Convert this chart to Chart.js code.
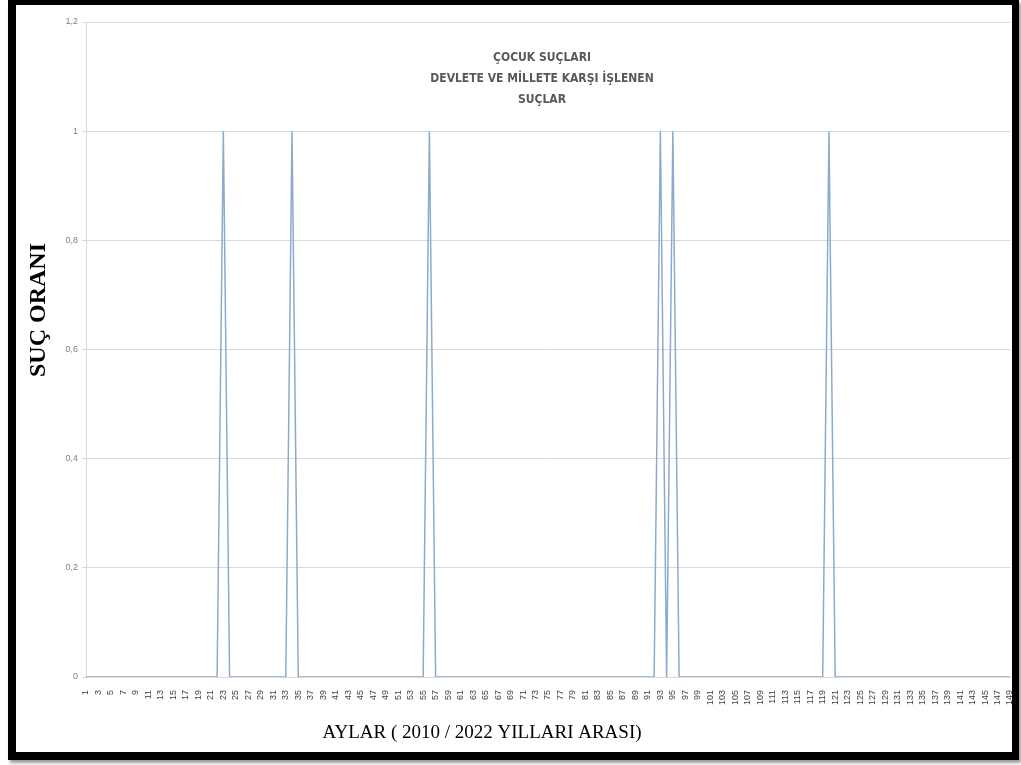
<!DOCTYPE html>
<html lang="tr">
<head>
<meta charset="utf-8">
<title>Çocuk Suçları</title>
<script src="https://cdn.jsdelivr.net/npm/chart.js@4.4.1/dist/chart.umd.min.js"></script>
<style>
  html, body { margin: 0; padding: 0; background: #fff; overflow: hidden; }
  .frame {
    position: absolute;
    left: 8px; top: 0;
    width: 1011px; height: 760px;
    box-sizing: border-box;
    border-style: solid;
    border-color: #000;
    border-width: 5px 7px 8px 8px;
    box-shadow: 2px 3px 3px #9a9a9a;
    background: #fff;
  }
  .chart-box { position: relative; width: 996px; height: 747px; }
</style>
</head>
<body>
<div class="frame">
  <div class="chart-box"><canvas id="sucChart"></canvas></div>
</div>
<script>
// Ay numaraları (1..149)
const aylar = [];
for (let i = 1; i <= 149; i++) aylar.push(String(i));

// Suç oranı, aylık
const sucOrani = [
  0, 0, 0, 0, 0, 0, 0, 0, 0, 0,
  0, 0, 0, 0, 0, 0, 0, 0, 0, 0,
  0, 0, 1, 0, 0, 0, 0, 0, 0, 0,
  0, 0, 0, 1, 0, 0, 0, 0, 0, 0,
  0, 0, 0, 0, 0, 0, 0, 0, 0, 0,
  0, 0, 0, 0, 0, 1, 0, 0, 0, 0,
  0, 0, 0, 0, 0, 0, 0, 0, 0, 0,
  0, 0, 0, 0, 0, 0, 0, 0, 0, 0,
  0, 0, 0, 0, 0, 0, 0, 0, 0, 0,
  0, 0, 1, 0, 1, 0, 0, 0, 0, 0,
  0, 0, 0, 0, 0, 0, 0, 0, 0, 0,
  0, 0, 0, 0, 0, 0, 0, 0, 0, 1,
  0, 0, 0, 0, 0, 0, 0, 0, 0, 0,
  0, 0, 0, 0, 0, 0, 0, 0, 0, 0,
  0, 0, 0, 0, 0, 0, 0, 0, 0
];

const baslik = ['ÇOCUK SUÇLARI', 'DEVLETE VE MİLLETE KARŞI İŞLENEN', 'SUÇLAR'];
const yBaslik = 'SUÇ ORANI';
const xBaslik = 'AYLAR ( 2010 / 2022 YILLARI ARASI)';

// Title and axis titles sit off-centre in the original, so draw them by hand
const metinler = {
  id: 'metinler',
  afterDraw(chart) {
    const ctx = chart.ctx;
    ctx.save();
    ctx.textAlign = 'center';
    ctx.textBaseline = 'middle';

    ctx.fillStyle = '#595959';
    ctx.font = 'bold 12px "Liberation Sans Narrow", "DejaVu Sans Condensed", sans-serif';
    baslik.forEach((t, i) => ctx.fillText(t, 526, 53 + i * 21));

    ctx.fillStyle = '#000';
    ctx.font = '19px "Liberation Serif", "DejaVu Serif", serif';
    ctx.fillText(xBaslik, 466, 728);

    ctx.translate(23, 305);
    ctx.rotate(-Math.PI / 2);
    ctx.font = 'bold 24px "Liberation Serif", "DejaVu Serif", serif';
    ctx.fillText(yBaslik, 0, 0);
    ctx.restore();
  }
};

const ctx = document.getElementById('sucChart').getContext('2d');
new Chart(ctx, {
  type: 'line',
  data: {
    labels: aylar,
    datasets: [{
      label: 'Suç oranı',
      data: sucOrani,
      borderColor: '#8aabcb',
      borderWidth: 1.5,
      pointRadius: 0,
      tension: 0,
      fill: false
    }]
  },
  options: {
    responsive: true,
    maintainAspectRatio: false,
    animation: false,
    layout: { padding: { top: 17, right: 2, bottom: 0, left: 0 } },
    plugins: {
      legend: { display: false },
      tooltip: { enabled: false }
    },
    scales: {
      x: {
        offset: false,
        grid: { display: false },
        border: { display: true, color: '#d9d9d9' },
        afterFit: (s) => {
          s.height = 75;
          s.paddingLeft = 0;
          s.paddingRight = 0;
        },
        ticks: {
          autoSkip: false,
          minRotation: 90,
          maxRotation: 90,
          padding: 5,
          color: '#404040',
          font: { family: '"Liberation Sans", sans-serif', size: 9 },
          callback: function (val, idx) {
            return idx % 2 === 0 ? this.getLabelForValue(val) : '';
          }
        }
      },
      y: {
        min: 0,
        max: 1.2,
        afterFit: (s) => { s.width = 70; },
        grid: { color: '#d9d9d9', tickLength: 4 },
        border: { display: true, color: '#d9d9d9' },
        ticks: {
          stepSize: 0.2,
          padding: 4,
          color: '#808080',
          font: { family: '"Liberation Sans", sans-serif', size: 9 },
          callback: (v) => String(Math.round(v * 10) / 10).replace('.', ',')
        }
      }
    }
  },
  plugins: [metinler]
});
</script>
</body>
</html>
